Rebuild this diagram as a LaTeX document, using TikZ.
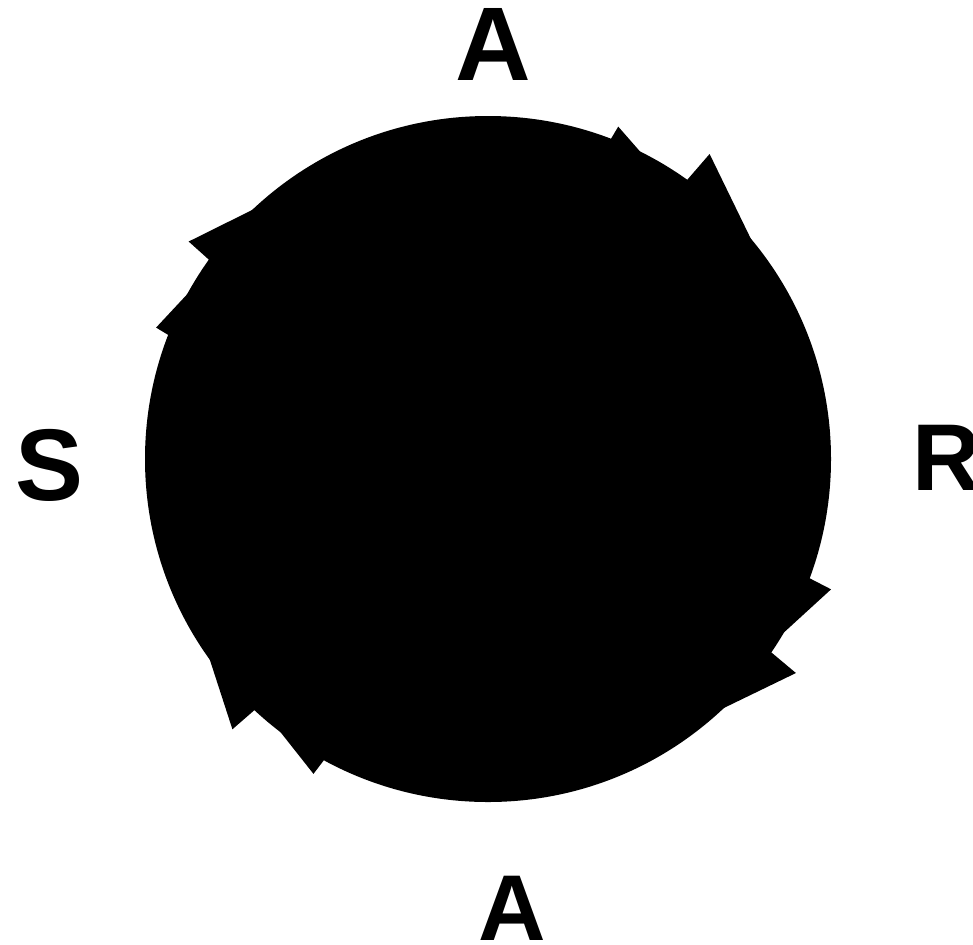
\documentclass[tikz,border=0pt]{standalone}
\usepackage{fontspec}
\setmainfont{Liberation Sans}
\usetikzlibrary{calc}

\begin{document}
\begin{tikzpicture}[
  x=0.02cm,y=-0.02cm,
  disc/.style={fill=black},
  barb/.style={fill=black},
  lbl/.style={inner sep=0pt,anchor=base}
]
\useasboundingbox (0,0) rectangle (973,944);
\clip (0,0) rectangle (973,944);
% the cycle, one black disc with the arrow barbs round it
\begin{scope}[shift={(488,459)},y=0.02cm]
\fill[disc] (0,0) circle[radius=343];
\foreach \a/\r/\s in {68.6/357/8, 54/377/20, 158.4/357/13, 144/370/15,
                      -20.8/367/14, -34.8/375/16, 241/360/14, 226.6/372/15}
  \fill[barb] (\a:\r) -- (\a+0.6:336) -- (\a-\s:336) -- cycle;
\end{scope}
% the four letters
\node[lbl,font=\fontsize{59.6}{60}\selectfont\bfseries] (atop) at (493,80) {A};
\node[lbl,font=\fontsize{58}{60}\selectfont\bfseries] (sleft) at (49,500) {S};
\node[lbl,anchor=base west,font=\fontsize{54}{60}\selectfont\bfseries] (rright) at (912,490) {R};
\node[lbl,font=\fontsize{53.2}{60}\selectfont\bfseries] (abot) at (512,940) {A};
\end{tikzpicture}
\end{document}
